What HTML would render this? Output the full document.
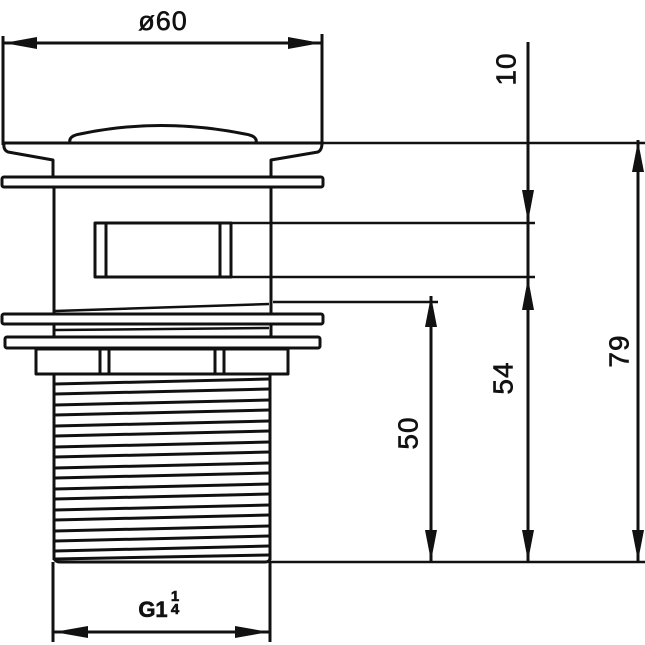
<!DOCTYPE html>
<html><head><meta charset="utf-8"><style>
html,body{margin:0;padding:0;background:#fff;}
svg{display:block;}
text{font-family:"Liberation Sans",sans-serif;fill:#111;stroke:#111;stroke-width:0.6;}
</style></head><body>
<svg width="645" height="645" viewBox="0 0 645 645" xmlns="http://www.w3.org/2000/svg">
<g stroke="#111" stroke-width="3" fill="none" stroke-linejoin="round">
<line x1="3" y1="36" x2="3" y2="145"/>
<line x1="322" y1="34" x2="322" y2="145"/>
<line x1="3" y1="43" x2="322" y2="43"/>
<path d="M70 143 Q68 136 80 134 Q160 117 245 134 Q258 136 256 143"/>
<path d="M4 143 L322 143 Q322 150 318 152 L271 160 L271 176"/>
<path d="M4 143 Q3 150 8 152 L53 160 L53 176"/>
<rect x="2" y="177" width="321" height="10" rx="2"/>
<line x1="54" y1="187" x2="54" y2="313"/>
<line x1="271" y1="187" x2="271" y2="313"/>
<rect x="95" y="223" width="136" height="54"/>
<line x1="106" y1="223" x2="106" y2="277"/>
<line x1="220" y1="223" x2="220" y2="277"/>
<line x1="231" y1="223" x2="535" y2="223" stroke-width="2.5"/>
<line x1="231" y1="277" x2="535" y2="277" stroke-width="2.5"/>
<line x1="273" y1="302" x2="438" y2="302" stroke-width="2.5"/>
<line x1="55" y1="311" x2="269" y2="304" stroke-width="2.5"/>
<rect x="2" y="314" width="321" height="10" rx="2"/>
<line x1="54" y1="324" x2="54" y2="336"/>
<line x1="271" y1="324" x2="271" y2="336"/>
<line x1="55" y1="330" x2="269" y2="328" stroke-width="2.5"/>
<rect x="5" y="337" width="315" height="11" rx="2"/>
<rect x="36" y="349" width="252" height="25"/>
<line x1="100" y1="349" x2="100" y2="374"/>
<line x1="109" y1="349" x2="109" y2="374"/>
<line x1="215" y1="349" x2="215" y2="374"/>
<line x1="224" y1="349" x2="224" y2="374"/>
<line x1="54" y1="374" x2="54" y2="560"/>
<line x1="270" y1="374" x2="270" y2="560"/>
<path d="M54 558 Q55 562 60 562 L265 562 Q270 562 270 558"/>
<line x1="270" y1="562" x2="645" y2="562" stroke-width="2.5"/>
<line x1="53" y1="562" x2="53" y2="642"/>
<line x1="270" y1="562" x2="270" y2="642"/>
<line x1="53" y1="632" x2="270" y2="632"/>
<line x1="322" y1="143" x2="645" y2="143" stroke-width="2.5"/>
<line x1="528" y1="42" x2="528" y2="562"/>
<line x1="431" y1="296" x2="431" y2="562"/>
<line x1="638" y1="140" x2="638" y2="562"/>
</g>
<g stroke="#111" stroke-width="3">
<line x1="55" y1="384" x2="269" y2="379"/>
<line x1="55" y1="394" x2="269" y2="389"/>
<line x1="55" y1="405" x2="269" y2="400"/>
<line x1="55" y1="415" x2="269" y2="410"/>
<line x1="55" y1="426" x2="269" y2="421"/>
<line x1="55" y1="436" x2="269" y2="431"/>
<line x1="55" y1="447" x2="269" y2="442"/>
<line x1="55" y1="457" x2="269" y2="452"/>
<line x1="55" y1="468" x2="269" y2="463"/>
<line x1="55" y1="478" x2="269" y2="473"/>
<line x1="55" y1="489" x2="269" y2="484"/>
<line x1="55" y1="499" x2="269" y2="494"/>
<line x1="55" y1="510" x2="269" y2="505"/>
<line x1="55" y1="520" x2="269" y2="515"/>
<line x1="55" y1="531" x2="269" y2="526"/>
<line x1="55" y1="541" x2="269" y2="536"/>
<line x1="55" y1="551" x2="269" y2="546"/>
<line x1="55" y1="559" x2="269" y2="555"/>
</g>
<g fill="#111">
<polygon points="4,43 37,37 37,49"/>
<polygon points="321,43 288,37 288,49"/>
<polygon points="54,632 88,626 88,638"/>
<polygon points="269,632 235,626 235,638"/>
<polygon points="528,222 522,190 534,190"/>
<polygon points="528,278 522,310 534,310"/>
<polygon points="528,561 522,530 534,530"/>
<polygon points="431,296 425,327 437,327"/>
<polygon points="431,561 425,530 437,530"/>
<polygon points="638,141 632,172 644,172"/>
<polygon points="638,561 632,530 644,530"/>
</g>
<text x="163" y="30" font-size="27" text-anchor="middle" letter-spacing="1">ø60</text>
<text x="153" y="617" font-size="22" font-weight="bold" font-family="Liberation Serif,serif" text-anchor="middle">G1</text>
<text x="175" y="601" font-size="15" font-weight="bold" font-family="Liberation Serif,serif" text-anchor="middle">1</text>
<text x="175" y="614" font-size="15" font-weight="bold" font-family="Liberation Serif,serif" text-anchor="middle">4</text>
<text transform="translate(506,69) rotate(-90)" font-size="28" text-anchor="middle" dominant-baseline="central" letter-spacing="1">10</text>
<text transform="translate(503,378) rotate(-90)" font-size="28" text-anchor="middle" dominant-baseline="central" letter-spacing="1">54</text>
<text transform="translate(408,433) rotate(-90)" font-size="28" text-anchor="middle" dominant-baseline="central" letter-spacing="1">50</text>
<text transform="translate(619,351) rotate(-90)" font-size="28" text-anchor="middle" dominant-baseline="central" letter-spacing="1">79</text>
</svg>
</body></html>
